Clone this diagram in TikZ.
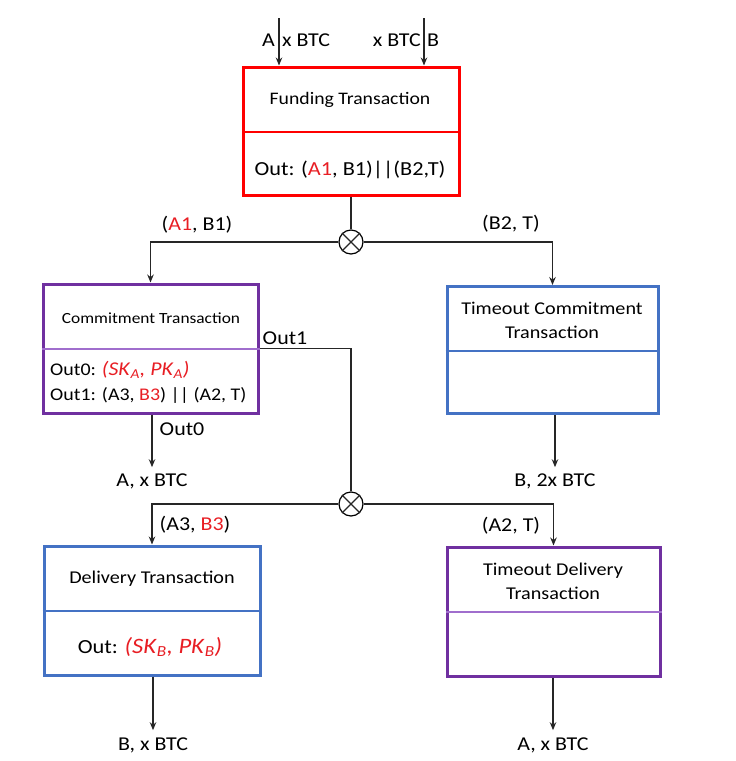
\documentclass[tikz,border=0pt]{standalone}
\usepackage{fontspec}
\setmainfont{Carlito}[FakeStretch=1.12]
\usetikzlibrary{arrows.meta}
\definecolor{fred}{RGB}{255,0,0}
\definecolor{tred}{RGB}{232,30,36}
\definecolor{bblue}{RGB}{68,114,196}
\definecolor{ppurple}{RGB}{112,48,160}
\definecolor{lpurple}{RGB}{160,110,205}
\newcommand{\keypair}[2]{{\fontsize{#2}{24pt}\selectfont\textit{(SK}\textsubscript{\textit{#1}}\textit{, PK}\textsubscript{\textit{#1}}\textit{)}}}
\begin{document}
\begin{tikzpicture}[x=1pt,y=-1pt,
  box/.style={draw, line width=3pt, fill=white, inner sep=0pt},
  wire/.style={line width=1.2pt, draw=black!85},
  arr/.style={wire, -{Stealth[length=8pt,width=6.5pt]}},
  lab/.style={font=\fontsize{19.6pt}{23pt}\selectfont, inner sep=0pt},
  ttl/.style={font=\fontsize{17.8pt}{24pt}\selectfont, inner sep=0pt, align=center},
  junc/.style={circle, draw, line width=1.2pt, minimum size=24pt, inner sep=0pt, fill=white},
]
\useasboundingbox (0,0) rectangle (736,761);

% ---------- boxes ----------
\node[box, draw=fred, minimum width=216pt, minimum height=128pt] (fund) at (351.5,131) {};
\draw[fred, line width=1.5pt] (fund.west |- 0,132) -- (fund.east |- 0,132);

\node[box, draw=ppurple, minimum width=215pt, minimum height=129pt] (comm) at (150.5,348.5) {};
\draw[lpurple, line width=1.5pt] (comm.west |- 0,349) -- (comm.east |- 0,349);

\node[box, draw=bblue, minimum width=211pt, minimum height=127pt] (tc) at (552.5,350) {};
\draw[bblue, line width=1.8pt] (tc.west |- 0,351) -- (tc.east |- 0,351);

\node[box, draw=bblue, minimum width=216pt, minimum height=129pt] (del) at (152,610.5) {};
\draw[bblue, line width=1.8pt] (del.west |- 0,611) -- (del.east |- 0,611);

\node[box, draw=ppurple, minimum width=213pt, minimum height=129pt] (td) at (553.5,611.5) {};
\draw[lpurple, line width=1.5pt] (td.west |- 0,612) -- (td.east |- 0,612);

% ---------- box texts ----------
\node[ttl, font=\fontsize{17.6pt}{22pt}\selectfont] (fundT) at (350,100) {Funding Transaction};
\node[ttl, font=\fontsize{19.9pt}{24pt}\selectfont] (fundO) at (350,170) {Out: (\textcolor{tred}{A1}, B1)||(B2,T)};

\node[ttl, font=\fontsize{15.5pt}{20pt}\selectfont] (commT) at (151,318) {Commitment Transaction};
\node[ttl, anchor=west] (commO0) at (50,370) {Out0: \textcolor{tred}{\keypair{A}{19.5pt}}};
\node[ttl, anchor=west] (commO1) at (50,395) {Out1: (A3, \textcolor{tred}{B3}) || (A2, T)};

\node[ttl, font=\fontsize{18pt}{24pt}\selectfont] (tcT) at (552,320) {Timeout Commitment\\Transaction};

\node[ttl, font=\fontsize{18pt}{24pt}\selectfont] (delT) at (152,579) {Delivery Transaction};
\node[ttl, font=\fontsize{20pt}{24pt}\selectfont] (delO) at (150,647) {Out: \textcolor{tred}{\keypair{B}{22pt}}};

\node[ttl, font=\fontsize{18pt}{24pt}\selectfont] (tdT) at (553,581) {Timeout Delivery\\Transaction};

% ---------- junctions ----------
\node[junc] (j1) at (351,242) {};
\draw[wire] (j1.north west) -- (j1.south east) (j1.north east) -- (j1.south west);
\node[junc] (j2) at (351,504) {};
\draw[wire] (j2.north west) -- (j2.south east) (j2.north east) -- (j2.south west);

% ---------- inputs ----------
\coordinate (inA) at (279,18);
\coordinate (inB) at (424,18);
\draw[arr] (inA) -- (inA |- fund.north);
\draw[arr] (inB) -- (inB |- fund.north);
\node[lab, anchor=east] (lA) at (275,40) {A};
\node[lab, anchor=west] (lAx) at (282,40) {x BTC};
\node[lab, anchor=east] (lBx) at (421,40) {x BTC};
\node[lab, anchor=west] (lB) at (427,40) {B};

% ---------- outputs / labels ----------
\node[lab] (aA1) at (197,225) {(\textcolor{tred}{A1}, B1)};
\node[lab] (aB2) at (511,224) {(B2, T)};
\node[lab] (lOut1) at (285,338) {Out1};
\node[lab] (lOut0) at (182,429) {Out0};
\node[lab] (lA3) at (195,525) {(A3, \textcolor{tred}{B3})};
\node[lab] (lA2) at (511,526) {(A2, T)};

\node[lab] (oA1) at (152,481) {A, x BTC};
\node[lab] (oB2) at (555,481) {B, 2x BTC};
\node[lab] (oB) at (153,745) {B, x BTC};
\node[lab] (oA2) at (553,745) {A, x BTC};

% ---------- connectors ----------
\draw[wire] (fund.south -| j1) -- (j1.north);
\draw[arr] (j1.west) -| (comm.north);
\draw[arr] (j1.east) -| (tc.north);

\draw[wire] (comm.east) -| (j2.north);
\draw[arr] (comm.south -| oA1) -- ([yshift=6pt]oA1.north);
\draw[arr] (tc.south -| oB2) -- ([yshift=6pt]oB2.north);

\draw[arr] (j2.west) -| (del.north);
\draw[arr] (j2.east) -| (td.north);

\draw[arr] (del.south -| oB) -- ([yshift=7pt]oB.north);
\draw[arr] (td.south -| oA2) -- ([yshift=7pt]oA2.north);
\end{tikzpicture}
\end{document}
